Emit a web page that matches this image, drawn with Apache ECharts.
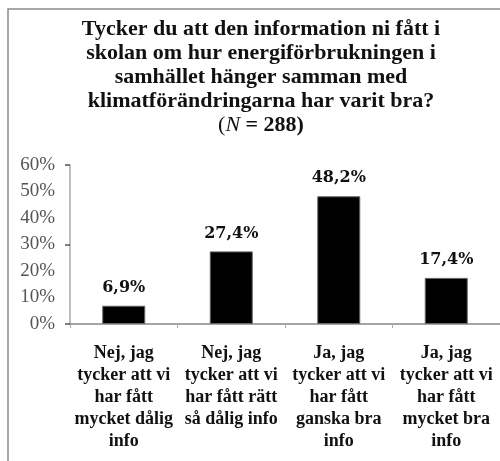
<!DOCTYPE html>
<html><head><meta charset="utf-8">
<script src="https://cdn.jsdelivr.net/npm/echarts@6/dist/echarts.min.js"></script>
<style>html,body{margin:0;padding:0;background:#fff}#c{width:500px;height:461px}</style>
</head><body><div id="c"></div>
<script>
const categories = [
  "Nej, jag\ntycker att vi\nhar fått\nmycket dålig\ninfo",
  "Nej, jag\ntycker att vi\nhar fått rätt\nså dålig info",
  "Ja, jag\ntycker att vi\nhar fått\nganska bra\ninfo",
  "Ja, jag\ntycker att vi\nhar fått\nmycket bra\ninfo"
];
const values = [6.9, 27.4, 48.2, 17.4];
const titleLines = [
  "Tycker du att den information ni fått i",
  "skolan om hur energiförbrukningen i",
  "samhället hänger samman med",
  "klimatförändringarna har varit bra?"
];
const nValue = 288;

const serif = '"Liberation Serif", "DejaVu Serif", serif';
const wideSerif = '"DejaVu Serif", "Liberation Serif", serif';
const chart = echarts.init(document.getElementById('c'), null, {renderer: 'canvas'});
chart.setOption({
  animation: false,
  backgroundColor: '#fff',
  graphic: [{
    type: 'rect', shape: {x: 8, y: 9, width: 520, height: 480},
    style: {fill: 'none', stroke: '#8a8a8a', lineWidth: 1.5}, silent: true, z: -1
  }],
  title: {
    text: titleLines.join('\n') + '\n{p|(}{i|N}{b| = ' + nValue + ')}',
    left: 256, top: 12, textAlign: 'center',
    textStyle: {
      fontFamily: serif, fontSize: 22, fontWeight: 'bold', color: '#111', lineHeight: 24,
      rich: {
        p: {fontFamily: serif, fontSize: 22, fontWeight: 'normal', color: '#111', lineHeight: 24},
        i: {fontFamily: serif, fontSize: 22, fontStyle: 'italic', fontWeight: 'normal', color: '#111', lineHeight: 24},
        b: {fontFamily: serif, fontSize: 22, fontWeight: 'bold', color: '#111', lineHeight: 24}
      }
    }
  },
  grid: {left: 70, right: 0, top: 165, bottom: 137, containLabel: false},
  xAxis: {
    type: 'category', data: categories,
    axisLine: {lineStyle: {color: '#888', width: 1.5}},
    axisTick: {show: true, length: 4, lineStyle: {color: '#aaa'}},
    axisLabel: {
      interval: 0, margin: 18, fontFamily: serif, fontSize: 18, fontWeight: 'bold',
      color: '#111', lineHeight: 22
    }
  },
  yAxis: [{
    type: 'value', min: 0, max: 60, interval: 10,
    axisLine: {show: true, lineStyle: {color: '#aaa', width: 1.5}},
    axisTick: {show: false},
    splitLine: {show: false},
    axisLabel: {formatter: '{value}%', fontFamily: serif, fontSize: 19, color: '#555', margin: 15}
  }, {
    type: 'value', min: 0, max: 60, interval: 30, position: 'left',
    axisLine: {show: false},
    axisTick: {show: true, length: 5, lineStyle: {color: '#555', width: 1.5}},
    splitLine: {show: false},
    axisLabel: {show: false}
  }],
  series: [{
    type: 'bar', data: values, barWidth: '40%',
    itemStyle: {color: '#000', borderColor: '#666', borderWidth: 1},
    label: {
      show: true, position: 'top', distance: 10,
      formatter: p => p.value.toFixed(1).replace('.', ',') + '%',
      fontFamily: wideSerif, fontSize: 16, fontWeight: 'bold', color: '#111'
    }
  }]
});
</script></body></html>
